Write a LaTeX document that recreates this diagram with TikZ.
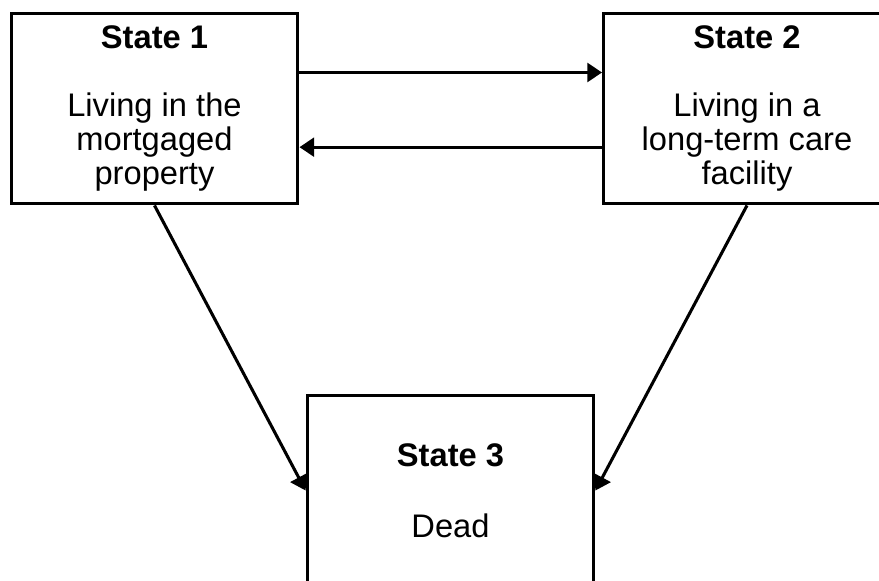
\documentclass[tikz,border=0pt]{standalone}
\usepackage{fontspec}
\setmainfont{Liberation Sans}
\usetikzlibrary{arrows.meta,positioning}

\begin{document}
\begin{tikzpicture}[x=0.75pt,y=-0.75pt,
    state/.style={rectangle,draw,line width=2.4pt,minimum width=215pt,minimum height=143pt,
      align=center,font=\fontsize{24.5}{25.5}\selectfont},
    arr/.style={line width=2.3pt,-{Triangle[length=11pt,width=14pt]}}]
  \useasboundingbox (0,0) rectangle (879,581);
  \path (154.5,108.5) node[state] (s1) {\textbf{State 1}\\[25.5pt]Living in the\\mortgaged\\property};
  \path (747,108.5) node[state] (s2) {\textbf{State 2}\\[25.5pt]Living in a\\long-term care\\facility};
  \path (450.5,490.5) node[state] (s3) {\textbf{State 3}\\[28pt]Dead};

  % moves between the two living states
  \draw[arr] ([yshift=27pt]s1.east) -- ([yshift=27pt]s2.west);
  \draw[arr] ([yshift=-29pt]s2.west) -- ([yshift=-29pt]s1.east);
  % death from either state
  \draw[arr] (s1.south) -- (s3.west);
  \draw[arr] (s2.south) -- (s3.east);
\end{tikzpicture}
\end{document}
